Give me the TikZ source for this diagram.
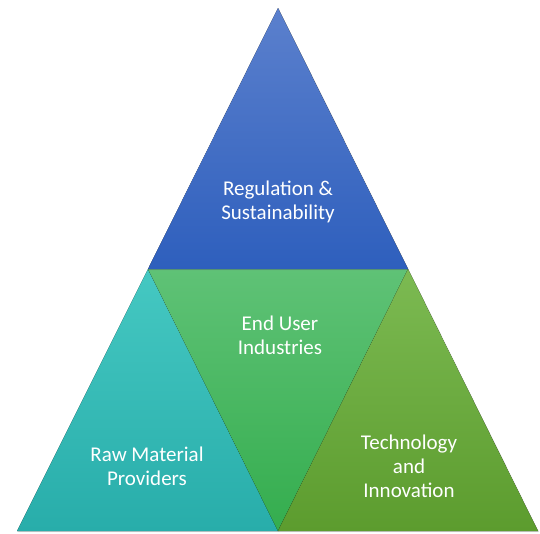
\documentclass[tikz,border=0pt]{standalone}
\usepackage{fontspec}
\setmainfont{Carlito}
\usetikzlibrary{shadows}
\definecolor{regtop}{HTML}{5B80CD}
\definecolor{regbot}{HTML}{2E5FBD}
\definecolor{rawtop}{HTML}{45C8C2}
\definecolor{rawbot}{HTML}{28ADAA}
\definecolor{endtop}{HTML}{5FC276}
\definecolor{endbot}{HTML}{34AD4E}
\definecolor{techtop}{HTML}{7CBA52}
\definecolor{techbot}{HTML}{5C9C2E}
\tikzset{
  piece/.style={drop shadow={opacity=0.25, shadow xshift=1pt, shadow yshift=-1pt}},
  label/.style={font=\fontsize{21}{24}\selectfont, text=white, align=center}
}
\begin{document}
\begin{tikzpicture}[x=1pt, y=-1pt]
    \useasboundingbox (0,0) rectangle (540,533);
    \coordinate (apex) at (278,8);
    \coordinate (midL) at (148,269);
    \coordinate (midR) at (408,269);
    \coordinate (botL) at (17,531);
    \coordinate (botM) at (278,531);
    \coordinate (botR) at (538,531);

    \fill[piece, top color=rawtop, bottom color=rawbot] (midL) -- (botM) -- (botL) -- cycle;
    \fill[piece, top color=endtop, bottom color=endbot] (midL) -- (midR) -- (botM) -- cycle;
    \fill[piece, top color=techtop, bottom color=techbot] (midR) -- (botR) -- (botM) -- cycle;
    \fill[piece, top color=regtop, bottom color=regbot] (apex) -- (midR) -- (midL) -- cycle;

    \node[label] (reg) at (278,202) {Regulation \&\\Sustainability};
    \node[label] (enduser) at (280,335) {End User\\Industries};
    \node[label] (raw) at (147,466) {Raw Material\\Providers};
    \node[label] (tech) at (409,466) {Technology\\and\\Innovation};
\end{tikzpicture}
\end{document}
